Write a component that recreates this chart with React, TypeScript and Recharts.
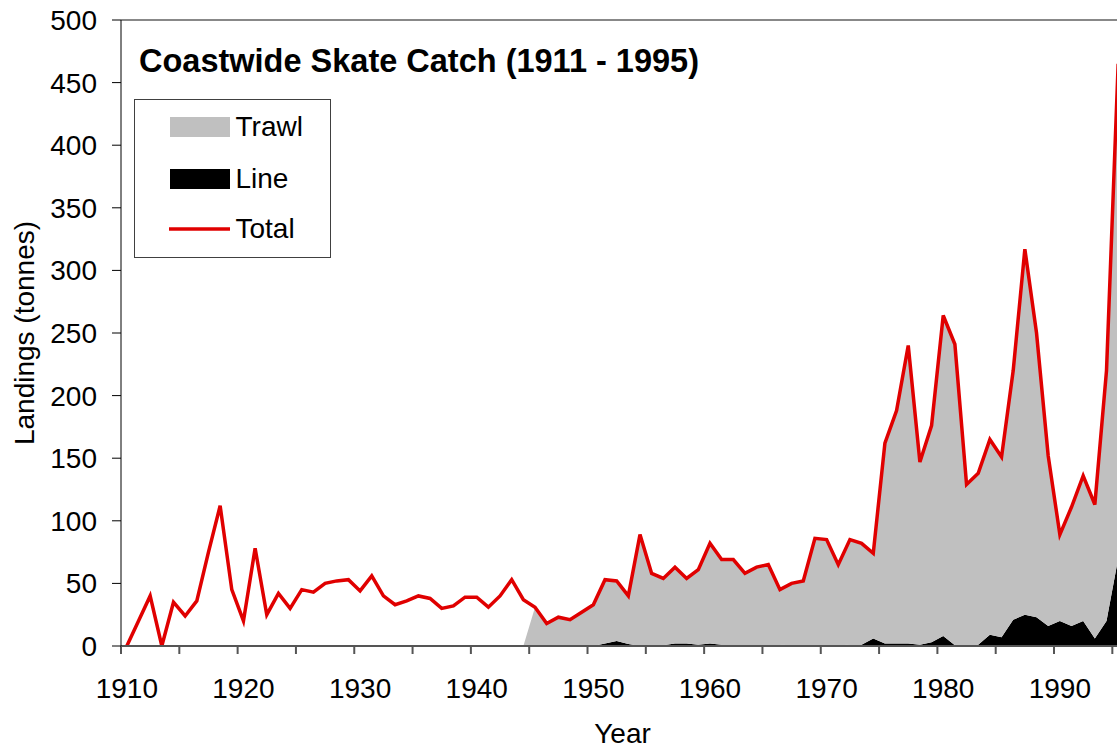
import React from 'react';
import { ComposedChart, Area, Line, XAxis, YAxis, Legend, ReferenceLine } from 'recharts';

// Categories: one per year, 1910 - 1995
const years = [
    1910, 1911, 1912, 1913, 1914, 1915, 1916, 1917, 1918, 1919,
    1920, 1921, 1922, 1923, 1924, 1925, 1926, 1927, 1928, 1929,
    1930, 1931, 1932, 1933, 1934, 1935, 1936, 1937, 1938, 1939,
    1940, 1941, 1942, 1943, 1944, 1945, 1946, 1947, 1948, 1949,
    1950, 1951, 1952, 1953, 1954, 1955, 1956, 1957, 1958, 1959,
    1960, 1961, 1962, 1963, 1964, 1965, 1966, 1967, 1968, 1969,
    1970, 1971, 1972, 1973, 1974, 1975, 1976, 1977, 1978, 1979,
    1980, 1981, 1982, 1983, 1984, 1985, 1986, 1987, 1988, 1989,
    1990, 1991, 1992, 1993, 1994, 1995,
];

// Landings (tonnes)
const totalCatch = [
    0, 20, 40, 0, 35, 24, 36, 75, 112, 45,
    20, 78, 25, 42, 30, 45, 43, 50, 52, 53,
    44, 56, 40, 33, 36, 40, 38, 30, 32, 39,
    39, 31, 40, 53, 37, 31, 18, 23, 21, 27,
    33, 53, 52, 40, 89, 58, 54, 63, 54, 61,
    82, 69, 69, 58, 63, 65, 45, 50, 52, 86,
    85, 65, 85, 82, 74, 162, 188, 240, 147, 176,
    264, 241, 129, 138, 165, 151, 220, 317, 250, 152,
    89, 111, 136, 113, 220, 465,
];

const lineCatch = [
    0, 0, 0, 0, 0, 0, 0, 0, 0, 0,
    0, 0, 0, 0, 0, 0, 0, 0, 0, 0,
    0, 0, 0, 0, 0, 0, 0, 0, 0, 0,
    0, 0, 0, 0, 0, 0, 0, 0, 0, 0,
    0, 2, 4, 1.5, 0, 0, 0.5, 2, 2, 1,
    2, 1, 1, 1, 1, 1, 1, 0.5, 0.5, 0.5,
    0.5, 0.5, 1, 1, 6, 2, 2, 2, 1, 3,
    8, 0.5, 0, 1, 9, 7, 21, 25, 23, 16,
    20, 16, 20, 6, 20, 70,
];

const trawlCatch = [
    0, 0, 0, 0, 0, 0, 0, 0, 0, 0,
    0, 0, 0, 0, 0, 0, 0, 0, 0, 0,
    0, 0, 0, 0, 0, 0, 0, 0, 0, 0,
    0, 0, 0, 0, 0, 31, 18, 23, 21, 27,
    33, 51, 48, 38.5, 89, 58, 53.5, 61, 52, 60,
    80, 68, 68, 57, 62, 64, 44, 49.5, 51.5, 85.5,
    84.5, 64.5, 84, 81, 68, 160, 186, 238, 146, 173,
    256, 240.5, 129, 137, 156, 144, 199, 292, 227, 136,
    69, 95, 116, 107, 200, 395,
];

// tick marks sit on category boundaries, every 5 years
const xTickMarks = [
    1909.5, 1914.5, 1919.5, 1924.5, 1929.5, 1934.5, 1939.5, 1944.5, 1949.5,
    1954.5, 1959.5, 1964.5, 1969.5, 1974.5, 1979.5, 1984.5, 1989.5, 1994.5,
];
const yTicks = [0, 50, 100, 150, 200, 250, 300, 350, 400, 450, 500];

const data = years.map((year, i) => ({
    year,
    trawl: trawlCatch[i],
    line: lineCatch[i],
    total: totalCatch[i],
}));

const FONT = '"Liberation Sans", Arial, sans-serif';
const HALF_CATEGORY = 5.83;

const legendOrder = ['Trawl', 'Line', 'Total'];
const legendColors: Record<string, string> = { Trawl: '#c0c0c0', Line: '#000000', Total: '#e00000' };
const rowTops = [16.5, 68.5, 118.5];

const YearTick = (props: any) => {
    const { x, y, payload } = props;
    const year = payload.value + 0.5;
    if (year % 10 !== 0) return <g />;
    return (
        <text x={x + HALF_CATEGORY} y={y} dy="0.71em" textAnchor="middle"
            fill="#000" fontSize={28} fontFamily={FONT}>
            {year}
        </text>
    );
};

const renderLegend = (props: any) => {
    const items = [...(props.payload || [])].sort(
        (a, b) => legendOrder.indexOf(a.value) - legendOrder.indexOf(b.value)
    );
    return (
        <div style={{
            width: 197, height: 159, border: '1.5px solid #404040', boxSizing: 'border-box',
            position: 'relative', background: '#fff', fontFamily: FONT,
        }}>
            {items.map((item: any, i: number) => (
                <div key={item.value} style={{
                    position: 'absolute', left: 33.5, top: rowTops[i], height: 20,
                    display: 'flex', alignItems: 'center',
                }}>
                    <svg width={61} height={20} style={{ display: 'block' }}>
                        {item.value === 'Total'
                            ? <line x1={0} x2={61} y1={10} y2={10} stroke={legendColors.Total} strokeWidth={3.5} />
                            : <rect x={1} y={0} width={60} height={20} fill={legendColors[item.value]} />}
                    </svg>
                    <span style={{ marginLeft: 6, fontSize: 28, color: '#000', lineHeight: '20px' }}>{item.value}</span>
                </div>
            ))}
        </div>
    );
};

export default function App() {
    return (
        <div style={{
            position: 'fixed', left: 0, top: 0, width: 1117, height: 750,
            overflow: 'hidden', background: '#fff', fontFamily: FONT,
        }}>
            <div style={{
                position: 'absolute', left: 139, top: 45, zIndex: 2, fontSize: 32.5,
                fontWeight: 'bold', lineHeight: '32px', whiteSpace: 'nowrap', color: '#000',
            }}>
                Coastwide Skate Catch (1911 - 1995)
            </div>
            <ComposedChart width={1125} height={750} data={data}
                margin={{ top: 20, right: 1, bottom: 0, left: 0 }}>
                <XAxis
                    dataKey="year"
                    type="number"
                    domain={[1909.5, 1995.5]}
                    ticks={xTickMarks}
                    interval={0}
                    allowDataOverflow
                    height={104}
                    tickSize={8}
                    tickMargin={24}
                    stroke="#555"
                    strokeWidth={2}
                    tick={<YearTick />}
                    label={{ value: 'Year', position: 'insideBottom', offset: 7, fontSize: 28, fill: '#000', fontFamily: FONT }}
                />
                <YAxis
                    domain={[0, 500]}
                    ticks={yTicks}
                    interval={0}
                    allowDataOverflow
                    width={121}
                    tickSize={9}
                    tickMargin={15}
                    stroke="#000"
                    tick={{ fontSize: 28, fill: '#000', fontFamily: FONT }}
                    label={{
                        value: 'Landings (tonnes)', angle: -90, position: 'insideLeft', offset: 24,
                        fontSize: 28, fill: '#000', fontFamily: FONT, style: { textAnchor: 'middle' },
                    }}
                />
                <ReferenceLine y={500} stroke="#888" strokeWidth={2} />
                <Area type="linear" dataKey="line" name="Line" stackId="catch" stroke="none"
                    fill="#000000" fillOpacity={1} legendType="rect" isAnimationActive={false} />
                <Area type="linear" dataKey="trawl" name="Trawl" stackId="catch" stroke="none"
                    fill="#c0c0c0" fillOpacity={1} legendType="rect" isAnimationActive={false} />
                <Line type="linear" dataKey="total" name="Total" stroke="#e00000" strokeWidth={3.5}
                    dot={false} activeDot={false} legendType="line" isAnimationActive={false} />
                <Legend
                    layout="vertical"
                    align="center"
                    verticalAlign="middle"
                    content={renderLegend}
                    wrapperStyle={{ left: 134, top: 99, width: 197, height: 159 }}
                />
            </ComposedChart>
        </div>
    );
}
